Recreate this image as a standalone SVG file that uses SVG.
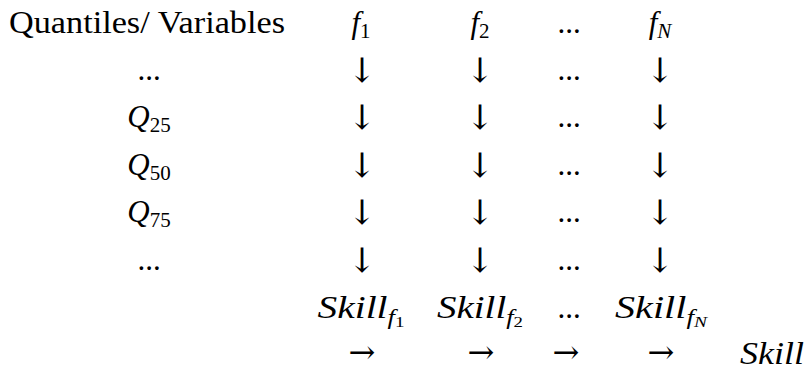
<svg xmlns="http://www.w3.org/2000/svg" width="806" height="371" viewBox="0 0 806 371">
<style>
text{font-family:"Liberation Serif",serif;font-size:31px;fill:#000;text-anchor:middle}
.m{font-style:italic}
.s{font-size:21px}
.ss{font-size:15px}
.arr{font-family:"DejaVu Serif",serif;font-size:34px}
.rarr{font-family:"DejaVu Serif",serif;font-size:32px}
</style>
<rect width="806" height="371" fill="#fff"/>
<g id="header">
<text x="147" y="33" textLength="276" lengthAdjust="spacingAndGlyphs">Quantiles/ Variables</text>
<text x="361" y="33"><tspan class="m">f</tspan><tspan class="s" dy="5">1</tspan></text>
<text x="480" y="33"><tspan class="m">f</tspan><tspan class="s" dy="5">2</tspan></text>
<text x="569" y="33">...</text>
<text x="660" y="33"><tspan class="m">f</tspan><tspan class="s m" dy="5">N</tspan></text>
</g>
<g id="row-labels">
<text x="149" y="80">...</text>
<text x="149" y="127"><tspan class="m">Q</tspan><tspan class="s" dy="5">25</tspan></text>
<text x="149" y="175"><tspan class="m">Q</tspan><tspan class="s" dy="5">50</tspan></text>
<text x="149" y="222"><tspan class="m">Q</tspan><tspan class="s" dy="5">75</tspan></text>
<text x="149" y="270">...</text>
</g>
<g id="dots-column">
<text x="569" y="80">...</text>
<text x="569" y="127">...</text>
<text x="569" y="175">...</text>
<text x="569" y="222">...</text>
<text x="569" y="270">...</text>
<text x="569" y="318">...</text>
</g>
<g id="skills">
<text x="361" y="318" textLength="87" lengthAdjust="spacingAndGlyphs"><tspan class="m">Skill</tspan><tspan class="m s" dy="6">f</tspan><tspan class="ss" dy="3">1</tspan></text>
<text x="480" y="318" textLength="86" lengthAdjust="spacingAndGlyphs"><tspan class="m">Skill</tspan><tspan class="m s" dy="6">f</tspan><tspan class="ss" dy="3">2</tspan></text>
<text x="661" y="318" textLength="92" lengthAdjust="spacingAndGlyphs"><tspan class="m">Skill</tspan><tspan class="m s" dy="6">f</tspan><tspan class="ss m" dy="3">N</tspan></text>
<text x="772" y="364" class="m" textLength="64" lengthAdjust="spacingAndGlyphs">Skill</text>
</g>
<g id="connectors">
<text class="arr" x="362" y="82">↓</text>
<text class="arr" x="480" y="82">↓</text>
<text class="arr" x="660" y="82">↓</text>
<text class="arr" x="362" y="129">↓</text>
<text class="arr" x="480" y="129">↓</text>
<text class="arr" x="660" y="129">↓</text>
<text class="arr" x="362" y="177">↓</text>
<text class="arr" x="480" y="177">↓</text>
<text class="arr" x="660" y="177">↓</text>
<text class="arr" x="362" y="224">↓</text>
<text class="arr" x="480" y="224">↓</text>
<text class="arr" x="660" y="224">↓</text>
<text class="arr" x="362" y="272">↓</text>
<text class="arr" x="480" y="272">↓</text>
<text class="arr" x="660" y="272">↓</text>
<text class="rarr" x="362" y="363">→</text>
<text class="rarr" x="481" y="363">→</text>
<text class="rarr" x="566" y="363">→</text>
<text class="rarr" x="661" y="363">→</text>
</g>
</svg>
